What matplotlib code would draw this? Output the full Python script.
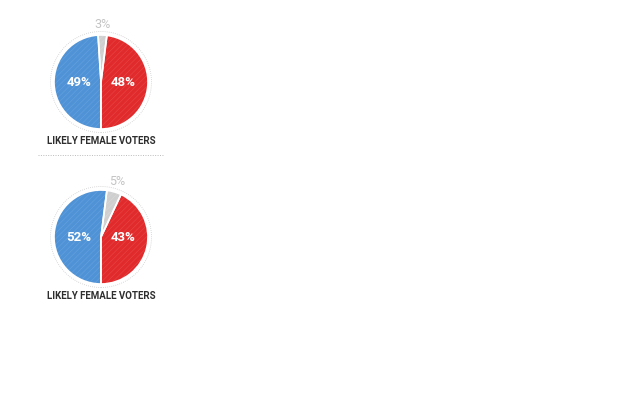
import numpy as np
import matplotlib.pyplot as plt
from matplotlib.patches import Circle

# share of likely female voters per candidate (blue, undecided, red)
labels = ["LIKELY FEMALE VOTERS", "LIKELY FEMALE VOTERS"]
blue_pct = [49, 52]
gray_pct = [3, 5]
red_pct = [48, 43]

colors = ["#4f92d6", "#cfcfcf", "#e02a2b"]
stripe = ["#62a0dd", "#d8d8d8", "#e64242"]

W, H = 628, 414
plt.rcParams["hatch.linewidth"] = 0.5

fig = plt.figure(figsize=(W / 100, H / 100), dpi=100)
ax = fig.add_axes([0, 0, 1, 1])

centers = [(101, H - 83), (101, H - 238)]
r = 47

for i, (cx, cy) in enumerate(centers):
    vals = [blue_pct[i], gray_pct[i], red_pct[i]]
    wedges, _ = ax.pie(vals, colors=colors, center=(cx, cy), radius=r,
                       startangle=-90, counterclock=False,
                       wedgeprops=dict(linewidth=0), frame=True)
    for w, sc in zip(wedges, stripe):
        w.set_hatch("//////")
        w.set_edgecolor(sc)
    # white separators
    ax.pie(vals, colors=["none"] * 3, center=(cx, cy), radius=r,
           startangle=-90, counterclock=False,
           wedgeprops=dict(linewidth=1.2, edgecolor="white", fill=False),
           frame=True)
    ax.add_patch(Circle((cx, cy), r + 3.5, fill=False, ec="#cccccc",
                        ls=(0, (1, 1.5)), lw=0.6))
    # big shares sit on the horizontal centre line
    ax.text(cx - 22, cy, f"{vals[0]}%", ha="center", va="center",
            color="white", fontsize=9.5, fontweight="bold", family="Roboto")
    ax.text(cx + 22, cy, f"{vals[2]}%", ha="center", va="center",
            color="white", fontsize=9.5, fontweight="bold", family="Roboto")
    mid = np.deg2rad((wedges[1].theta1 + wedges[1].theta2) / 2)
    d = r * 1.25
    ax.text(cx + d * np.cos(mid), cy + d * np.sin(mid), f"{vals[1]}%",
            ha="center", va="center", color="#c4c4c4", fontsize=9,
            family="Roboto")
    ax.text(cx, cy - 58, labels[i], ha="center", va="center",
            color="#2e2e2e", fontsize=7, fontweight="bold", family="Roboto")

ax.set_xlim(0, W)
ax.set_ylim(0, H)
ax.set_aspect("equal")
ax.axis("off")
ax.plot([38, 163], [H - 156, H - 156], color="#bbbbbb", lw=0.7,
        ls=(0, (1, 1.5)))

fig.savefig("out.png", dpi=100)
